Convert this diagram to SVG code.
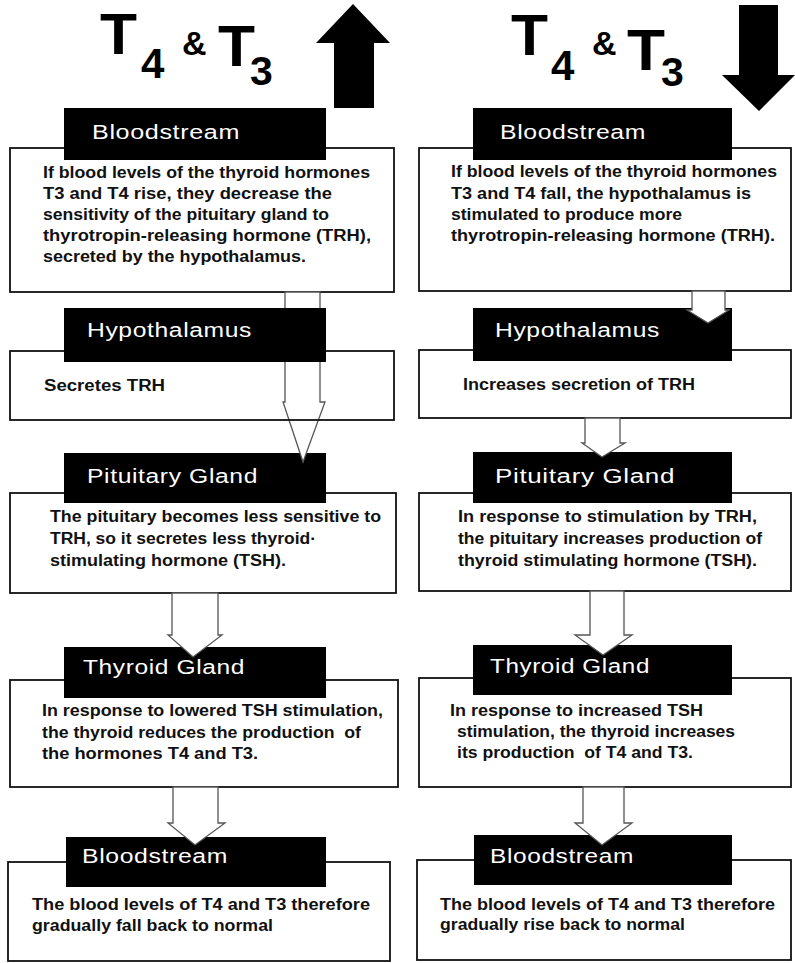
<svg xmlns="http://www.w3.org/2000/svg" width="795" height="963" viewBox="0 0 795 963">
<style>
.box{fill:#fff;stroke:#111;stroke-width:1.8}
.boxn{fill:none;stroke:#111;stroke-width:1.8}
.lab{fill:#000}
.lt{font-family:"Liberation Sans",Arial,sans-serif;font-size:20px;fill:#fff;letter-spacing:0.5px}
.bt{font-family:"Liberation Sans",Arial,sans-serif;font-size:16px;font-weight:bold;fill:#111}
.tt{font-family:"Liberation Sans",Arial,sans-serif;font-weight:bold;fill:#000}
.arr{fill:#fff;stroke:#555;stroke-width:1.3;stroke-linejoin:miter}
</style>
<rect width="795" height="963" fill="#fff"/>

<g id="title-left">
<text class="tt" x="100" y="54" font-size="58" textLength="37" lengthAdjust="spacingAndGlyphs">T</text>
<text class="tt" x="141" y="78" font-size="42">4</text>
<text class="tt" x="182" y="55" font-size="34">&amp;</text>
<text class="tt" x="218" y="66" font-size="58" textLength="37" lengthAdjust="spacingAndGlyphs">T</text>
<text class="tt" x="250" y="85" font-size="41">3</text>
<polygon points="353,4 390,43 374,43 374,108 334,108 334,43 316,43" fill="#000"/>
</g>
<g id="title-right">
<text class="tt" x="511" y="55" font-size="58" textLength="37" lengthAdjust="spacingAndGlyphs">T</text>
<text class="tt" x="551" y="80" font-size="42">4</text>
<text class="tt" x="592" y="55" font-size="34">&amp;</text>
<text class="tt" x="627" y="70" font-size="58" textLength="38" lengthAdjust="spacingAndGlyphs">T</text>
<text class="tt" x="661" y="86" font-size="41">3</text>
<polygon points="739,5 778,5 778,75 795,75 759,111 722,75 739,75" fill="#000"/>
</g>

<!-- Left column -->
<g id="L-bloodstream1">
<rect class="box" x="10" y="148" width="384" height="144"/>
<rect class="lab" x="64" y="108" width="262" height="52"/>
<text class="lt" x="92" y="139" textLength="148" lengthAdjust="spacingAndGlyphs">Bloodstream</text>
<text class="bt" x="43" y="178" textLength="327" lengthAdjust="spacingAndGlyphs">If blood levels of the thyroid hormones</text>
<text class="bt" x="43" y="199" textLength="289" lengthAdjust="spacingAndGlyphs">T3 and T4 rise, they decrease the</text>
<text class="bt" x="43" y="220" textLength="286" lengthAdjust="spacingAndGlyphs">sensitivity of the pituitary gland to</text>
<text class="bt" x="43" y="241" textLength="328" lengthAdjust="spacingAndGlyphs">thyrotropin-releasing hormone (TRH),</text>
<text class="bt" x="43" y="262" textLength="263" lengthAdjust="spacingAndGlyphs">secreted by the hypothalamus.</text>
</g>
<g id="L-pituitary">
<rect class="box" x="10" y="493" width="386" height="100"/>
<rect class="lab" x="64" y="453" width="262" height="50"/>
<text class="lt" x="87" y="483" textLength="171" lengthAdjust="spacingAndGlyphs">Pituitary Gland</text>
<text class="bt" x="50" y="522" textLength="331" lengthAdjust="spacingAndGlyphs">The pituitary becomes less sensitive to</text>
<text class="bt" x="50" y="544" textLength="266" lengthAdjust="spacingAndGlyphs">TRH, so it secretes less thyroid·</text>
<text class="bt" x="50" y="566" textLength="236" lengthAdjust="spacingAndGlyphs">stimulating hormone (TSH).</text>
</g>
<g id="L-thyroid">
<rect class="box" x="10" y="680" width="388" height="107"/>
<rect class="lab" x="64" y="647" width="262" height="51"/>
<text class="lt" x="83" y="674" textLength="162" lengthAdjust="spacingAndGlyphs">Thyroid Gland</text>
<text class="bt" x="42" y="716" textLength="341" lengthAdjust="spacingAndGlyphs">In response to lowered TSH stimulation,</text>
<text class="bt" x="42" y="738" textLength="319" lengthAdjust="spacingAndGlyphs" xml:space="preserve">the thyroid reduces the production  of</text>
<text class="bt" x="42" y="759" textLength="216" lengthAdjust="spacingAndGlyphs">the hormones T4 and T3.</text>
</g>
<g id="L-bloodstream2">
<rect class="box" x="8" y="862" width="382" height="99"/>
<rect class="lab" x="66" y="837" width="260" height="50"/>
<text class="lt" x="82" y="863" textLength="146" lengthAdjust="spacingAndGlyphs">Bloodstream</text>
<text class="bt" x="32" y="910" textLength="338" lengthAdjust="spacingAndGlyphs">The blood levels of T4 and T3 therefore</text>
<text class="bt" x="32" y="931" textLength="241" lengthAdjust="spacingAndGlyphs">gradually fall back to normal</text>
</g>

<!-- Right column -->
<g id="R-bloodstream1">
<rect class="box" x="419" y="148" width="372" height="143"/>
<rect class="lab" x="473" y="108" width="259" height="52"/>
<text class="lt" x="500" y="139" textLength="146" lengthAdjust="spacingAndGlyphs">Bloodstream</text>
<text class="bt" x="451" y="177" textLength="326" lengthAdjust="spacingAndGlyphs">If blood levels of the thyroid hormones</text>
<text class="bt" x="451" y="199" textLength="300" lengthAdjust="spacingAndGlyphs">T3 and T4 fall, the hypothalamus is</text>
<text class="bt" x="451" y="220" textLength="231" lengthAdjust="spacingAndGlyphs">stimulated to produce more</text>
<text class="bt" x="451" y="241" textLength="324" lengthAdjust="spacingAndGlyphs">thyrotropin-releasing hormone (TRH).</text>
</g>
<g id="R-hypothalamus">
<rect class="box" x="419" y="350" width="372" height="68"/>
<rect class="lab" x="473" y="308" width="259" height="53"/>
<text class="lt" x="495" y="337" textLength="165" lengthAdjust="spacingAndGlyphs">Hypothalamus</text>
<text class="bt" x="463" y="390" textLength="232" lengthAdjust="spacingAndGlyphs">Increases secretion of TRH</text>
</g>
<g id="R-pituitary">
<rect class="box" x="419" y="493" width="372" height="98"/>
<rect class="lab" x="473" y="452" width="259" height="51"/>
<text class="lt" x="495" y="483" textLength="180" lengthAdjust="spacingAndGlyphs">Pituitary Gland</text>
<text class="bt" x="458" y="522" textLength="299" lengthAdjust="spacingAndGlyphs">In response to stimulation by TRH,</text>
<text class="bt" x="458" y="544" textLength="304" lengthAdjust="spacingAndGlyphs">the pituitary increases production of</text>
<text class="bt" x="458" y="566" textLength="299" lengthAdjust="spacingAndGlyphs">thyroid stimulating hormone (TSH).</text>
</g>
<g id="R-thyroid">
<rect class="box" x="419" y="678" width="372" height="109"/>
<rect class="lab" x="473" y="645" width="259" height="50"/>
<text class="lt" x="490" y="673" textLength="160" lengthAdjust="spacingAndGlyphs">Thyroid Gland</text>
<text class="bt" x="450" y="716" textLength="253" lengthAdjust="spacingAndGlyphs">In response to increased TSH</text>
<text class="bt" x="457" y="737" textLength="278" lengthAdjust="spacingAndGlyphs">stimulation, the thyroid increases</text>
<text class="bt" x="457" y="758" textLength="236" lengthAdjust="spacingAndGlyphs" xml:space="preserve">its production  of T4 and T3.</text>
</g>
<g id="R-bloodstream2">
<rect class="box" x="417" y="860" width="374" height="100"/>
<rect class="lab" x="474" y="835" width="258" height="50"/>
<text class="lt" x="490" y="863" textLength="144" lengthAdjust="spacingAndGlyphs">Bloodstream</text>
<text class="bt" x="440" y="910" textLength="335" lengthAdjust="spacingAndGlyphs">The blood levels of T4 and T3 therefore</text>
<text class="bt" x="440" y="930" textLength="245" lengthAdjust="spacingAndGlyphs">gradually rise back to normal</text>
</g>

<g id="connectors">
<polygon class="arr" points="285,292 285,402 283,402 303,462 325,402 320,402 320,292"/>
<polygon class="arr" points="172,593 172,635 168,635 193,657 222,635 218,635 218,593"/>
<polygon class="arr" points="173,787 173,823 168,823 195,845 225,823 218,823 218,787"/>
<polygon class="arr" points="692,291 692,310 687,310 708,323 729,310 725,310 725,291"/>
<polygon class="arr" points="585,418 585,443 582,443 602,457 625,443 620,443 620,418"/>
<polygon class="arr" points="590,591 590,635 575,635 603,655 632,635 624,635 624,591"/>
<polygon class="arr" points="583,787 583,823 575,823 602,845 632,823 624,823 624,787"/>
</g>

<g id="L-hypothalamus">
<rect class="boxn" x="10" y="351" width="384" height="69"/>
<rect class="lab" x="64" y="308" width="262" height="54"/>
<text class="lt" x="87" y="337" textLength="165" lengthAdjust="spacingAndGlyphs">Hypothalamus</text>
<text class="bt" x="44" y="391" textLength="121" lengthAdjust="spacingAndGlyphs">Secretes TRH</text>
</g>
</svg>
